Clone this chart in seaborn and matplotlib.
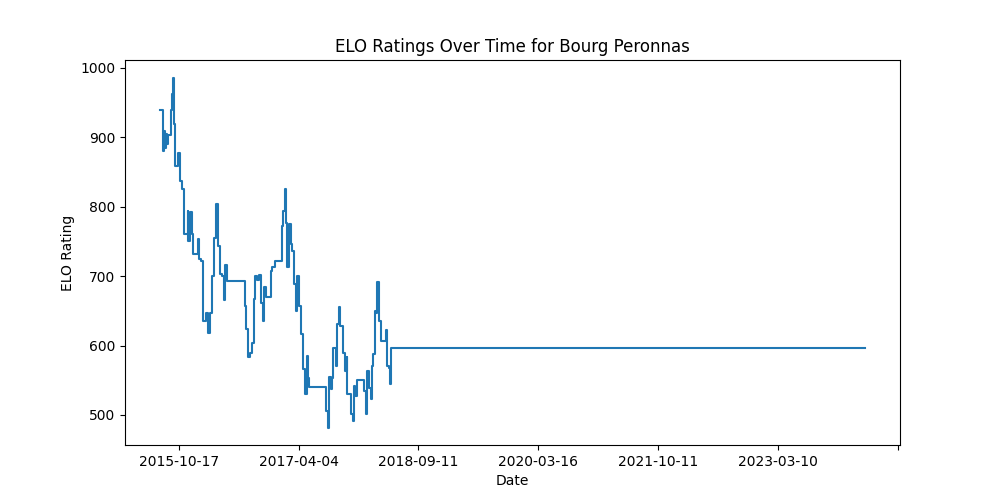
import matplotlib
matplotlib.use('Agg')
import matplotlib.pyplot as plt
import pandas as pd
import seaborn as sns

# ELO after each match (value holds until the next match)
match_dates = [
    '2015-07-15', '2015-07-26', '2015-07-30', '2015-08-04', '2015-08-08', '2015-08-13',
    '2015-08-17', '2015-09-01', '2015-09-06', '2015-09-12', '2015-09-16', '2015-09-19',
    '2015-10-04', '2015-10-13', '2015-10-24', '2015-10-29', '2015-11-16', '2015-11-20',
    '2015-11-26', '2015-12-04', '2015-12-10', '2016-01-03', '2016-01-09', '2016-01-15',
    '2016-01-23', '2016-01-27', '2016-02-07', '2016-02-17', '2016-02-26', '2016-03-04',
    '2016-03-13', '2016-03-26', '2016-04-02', '2016-04-10', '2016-04-22', '2016-04-30',
    '2016-05-06', '2016-05-12', '2016-08-02', '2016-08-09', '2016-08-16', '2016-08-25',
    '2016-09-05', '2016-09-12', '2016-09-18', '2016-09-27', '2016-10-04', '2016-10-16',
    '2016-10-23', '2016-10-28', '2016-11-04', '2016-11-27', '2016-12-05', '2016-12-15',
    '2017-01-16', '2017-01-22', '2017-01-29', '2017-02-03', '2017-02-11', '2017-02-18',
    '2017-02-26', '2017-03-05', '2017-03-13', '2017-03-20', '2017-03-28', '2017-04-04',
    '2017-04-15', '2017-04-22', '2017-04-30', '2017-05-09', '2017-05-15', '2017-05-19',
    '2017-08-06', '2017-08-13', '2017-08-18', '2017-08-26', '2017-08-30', '2017-09-05',
    '2017-09-19', '2017-09-23', '2017-10-02', '2017-10-07', '2017-10-22', '2017-10-29',
    '2017-11-06', '2017-11-09', '2017-11-27', '2017-12-04', '2017-12-09', '2017-12-15',
    '2017-12-24', '2018-01-26', '2018-02-01', '2018-02-08', '2018-02-15', '2018-02-23',
    '2018-03-02', '2018-03-07', '2018-03-13', '2018-03-20', '2018-03-26', '2018-04-01',
    '2018-04-12', '2018-05-05', '2018-05-09', '2018-05-18', '2018-05-23', '2018-05-27',
    '2024-04-13',
]
elo_ratings = [
    939, 880, 909, 885, 905, 890,
    903, 939, 962, 986, 919, 859,
    878, 837, 826, 761, 794, 751,
    792, 760, 732, 753, 725, 722,
    712, 635, 647, 618, 647, 700,
    755, 804, 744, 703, 700, 666,
    716, 693, 657, 624, 583, 590,
    604, 667, 700, 695, 702, 662,
    635, 684, 670, 708, 713, 722,
    772, 794, 825, 777, 713, 775,
    746, 736, 688, 650, 700, 657,
    617, 566, 530, 585, 554, 540,
    506, 482, 555, 537, 553, 597,
    571, 631, 655, 628, 590, 563,
    583, 530, 501, 491, 542, 527,
    551, 535, 501, 563, 539, 523,
    571, 588, 650, 647, 692, 635,
    606, 623, 571, 567, 544, 597,
    597,
]

# the original axis was spaced by match index, so ticks sit evenly
tick_positions = ['2015-10-08', '2017-04-03', '2018-09-28', '2020-03-25',
                  '2021-09-19', '2023-03-16', '2024-09-09']
tick_labels = ['2015-10-17', '2017-04-04', '2018-09-11', '2020-03-16',
               '2021-10-11', '2023-03-10', '']

df = pd.DataFrame({'Date': pd.to_datetime(match_dates), 'ELO': elo_ratings})

fig, ax = plt.subplots(figsize=(10, 5), dpi=100)
sns.lineplot(data=df, x='Date', y='ELO', drawstyle='steps-post', ax=ax)

ax.set_xticks(pd.to_datetime(tick_positions))
ax.set_xticklabels(tick_labels)
ax.set_title('ELO Ratings Over Time for Bourg Peronnas')
ax.set_xlabel('Date')
ax.set_ylabel('ELO Rating')

plt.savefig('out.png', dpi=100)
plt.close()
